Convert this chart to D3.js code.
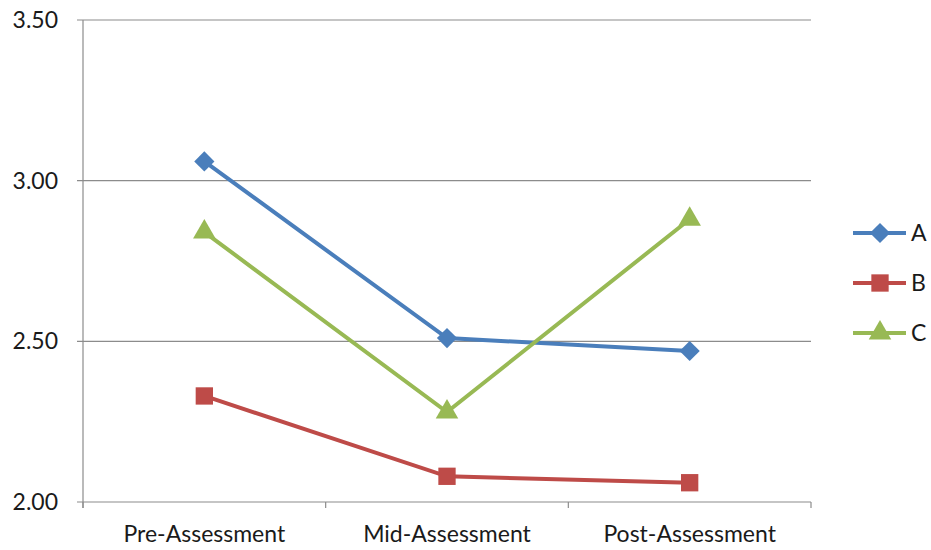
<!DOCTYPE html>
<html>
<head>
<meta charset="utf-8">
<script src="https://cdn.jsdelivr.net/npm/d3@7"></script>
<style>
body { margin: 0; background: #fff; }
text { font-family: Lato, "Open Sans", sans-serif; fill: #1a1a1a; }
</style>
</head>
<body>
<div id="graph"></div>
<script>
var categories = ['Pre-Assessment', 'Mid-Assessment', 'Post-Assessment'];
var seriesNames = ['A', 'B', 'C'];
var valuesA = [3.06, 2.51, 2.47];
var valuesB = [2.33, 2.08, 2.06];
var valuesC = [2.84, 2.28, 2.88];
var yTicks = [2.00, 2.50, 3.00, 3.50];

var colors = {A: '#4A7EBB', B: '#BE4B48', C: '#98B954'};
var series = [
  {name: 'A', values: valuesA, shape: 'diamond'},
  {name: 'B', values: valuesB, shape: 'square'},
  {name: 'C', values: valuesC, shape: 'triangle'}
];

var width = 931, height = 550;
var plotLeft = 83, plotRight = 811, plotTop = 20, plotBottom = 502;

var svg = d3.select('#graph').append('svg')
  .attr('width', width).attr('height', height);

var x = d3.scaleBand().domain(categories).range([plotLeft, plotRight]);
var y = d3.scaleLinear().domain([2, 3.5]).range([plotBottom, plotTop]);

// gridlines
svg.append('g').selectAll('line')
  .data(yTicks).enter().append('line')
  .attr('x1', plotLeft - 6).attr('x2', plotRight)
  .attr('y1', d => y(d)).attr('y2', d => y(d))
  .attr('stroke', '#8c8c8c').attr('stroke-width', 1.2);

// y axis line
svg.append('line')
  .attr('x1', plotLeft).attr('x2', plotLeft).attr('y1', plotTop).attr('y2', plotBottom + 6)
  .attr('stroke', '#8c8c8c').attr('stroke-width', 1.2);

// x ticks at category boundaries
var bounds = categories.map(c => x(c)).concat([plotRight]);
svg.append('g').selectAll('line')
  .data(bounds).enter().append('line')
  .attr('x1', d => d).attr('x2', d => d)
  .attr('y1', plotBottom).attr('y2', plotBottom + 6)
  .attr('stroke', '#8c8c8c').attr('stroke-width', 1.2);

svg.append('g').selectAll('text')
  .data(yTicks).enter().append('text')
  .attr('x', 58).attr('y', d => y(d) + 8)
  .attr('text-anchor', 'end')
  .attr('font-size', 23)
  .text(d => d.toFixed(2));

svg.append('g').selectAll('text')
  .data(categories).enter().append('text')
  .attr('x', d => x(d) + x.bandwidth() / 2).attr('y', 542)
  .attr('text-anchor', 'middle')
  .attr('font-size', 23)
  .text(d => d);

var line = d3.line()
  .x((d, i) => x(categories[i]) + x.bandwidth() / 2)
  .y(d => y(d));

var symbols = {
  diamond: d3.symbol().type(d3.symbolDiamond2).size(260),
  square: d3.symbol().type(d3.symbolSquare).size(300),
  triangle: d3.symbol().type(d3.symbolTriangle).size(220)
};

series.forEach(function(s) {
  var g = svg.append('g');
  g.append('path')
    .attr('d', line(s.values))
    .attr('fill', 'none')
    .attr('stroke', colors[s.name])
    .attr('stroke-width', 4);
  g.selectAll('path.m')
    .data(s.values).enter().append('path')
    .attr('class', 'm')
    .attr('d', symbols[s.shape])
    .attr('transform', (d, i) => 'translate(' + (x(categories[i]) + x.bandwidth() / 2) + ',' + y(d) + ')')
    .attr('fill', colors[s.name]);
});

// legend
var legend = svg.append('g');
series.forEach(function(s, i) {
  var ly = 233 + i * 50;
  legend.append('line')
    .attr('x1', 853).attr('x2', 906).attr('y1', ly).attr('y2', ly)
    .attr('stroke', colors[s.name]).attr('stroke-width', 4);
  legend.append('path')
    .attr('d', symbols[s.shape])
    .attr('transform', 'translate(880,' + ly + ')')
    .attr('fill', colors[s.name]);
  legend.append('text')
    .attr('x', 911).attr('y', ly + 8)
    .attr('font-size', 23)
    .text(s.name);
});
</script>
</body>
</html>
